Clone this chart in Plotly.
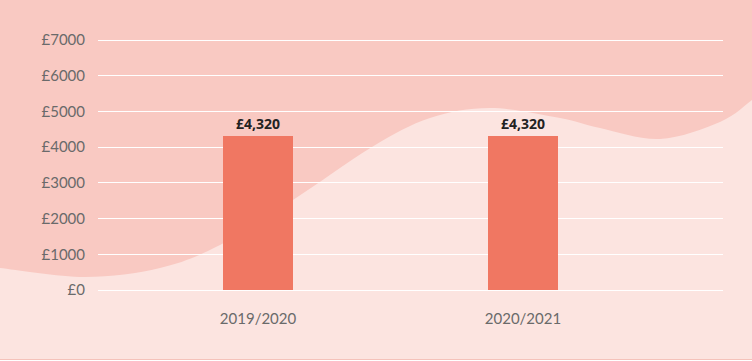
import plotly.graph_objects as go

categories = ["2019/2020", "2020/2021"]
values = [4320, 4320]
labels = ["£4,320", "£4,320"]
tick_vals = [0, 1000, 2000, 3000, 4000, 5000, 6000, 7000]
tick_text = ["£0", "£1000", "£2000", "£3000", "£4000", "£5000", "£6000", "£7000"]

W, H = 752, 361
L, R, T, B = 98, 29, 30, 71
pw, ph = W - L - R, H - T - B
YMAX = 7000 * ph / 250.0

def to_paper(px, py):
    return (px - L) / pw, (H - B - py) / ph

# decorative wave (pixel coordinates of the page)
wave = [(0, 268), (85, 277), (160, 268), (220, 245), (293, 200), (372, 147),
        (430, 118), (490, 108), (560, 118), (600, 128), (660, 139), (720, 122), (752, 100)]

def catmull_path(pts):
    d = []
    x0, y0 = to_paper(0, -5)
    d.append(f"M {x0},{y0}")
    x, y = to_paper(*pts[0])
    d.append(f"L {x},{y}")
    n = len(pts)
    for i in range(n - 1):
        p0 = pts[i - 1] if i > 0 else pts[i]
        p1 = pts[i]
        p2 = pts[i + 1]
        p3 = pts[i + 2] if i + 2 < n else pts[i + 1]
        c1 = (p1[0] + (p2[0] - p0[0]) / 6, p1[1] + (p2[1] - p0[1]) / 6)
        c2 = (p2[0] - (p3[0] - p1[0]) / 6, p2[1] - (p3[1] - p1[1]) / 6)
        a = to_paper(*c1); b = to_paper(*c2); c = to_paper(*p2)
        d.append(f"C {a[0]},{a[1]} {b[0]},{b[1]} {c[0]},{c[1]}")
    xe, ye = to_paper(760, 100)
    d.append(f"L {xe},{ye}")
    xe, ye = to_paper(760, -5)
    d.append(f"L {xe},{ye} Z")
    return " ".join(d)

fig = go.Figure(go.Bar(
    x=[0, 1], y=values, width=0.264,
    marker=dict(color="#F07762", line=dict(width=0)),
    text=labels, textposition="outside", cliponaxis=False, constraintext="none",
    textfont=dict(family="Open Sans", size=14, color="#222222", weight="bold"),
))

bl0 = to_paper(0, 359.5)
bl1 = to_paper(752, 359.5)
wr0 = to_paper(0, 360)
wr1 = to_paper(752, 362)
fig.update_layout(
    width=W, height=H,
    margin=dict(l=L, r=R, t=T, b=B),
    paper_bgcolor="#FCE4E0",
    plot_bgcolor="rgba(0,0,0,0)",
    showlegend=False,
    bargap=0,
    shapes=[
        dict(type="path", xref="paper", yref="paper", path=catmull_path(wave),
             fillcolor="#F9C9C2", line=dict(width=0), layer="below"),
        dict(type="rect", xref="paper", yref="paper", x0=wr0[0], y0=wr0[1], x1=wr1[0], y1=wr1[1],
             fillcolor="#FFFFFF", line=dict(width=0), layer="below"),
        dict(type="line", xref="paper", yref="paper", x0=bl0[0], y0=bl0[1], x1=bl1[0], y1=bl1[1],
             line=dict(color="#F5C2BA", width=1), layer="below"),
    ],
    xaxis=dict(
        range=[-0.604, 1.755], tickvals=[0, 1], ticktext=categories,
        showgrid=False, zeroline=False, showline=False, ticks="",
        tickfont=dict(family="Lato", size=15, color="#6a6a6a"),
        ticklabelstandoff=18, fixedrange=True,
    ),
    yaxis=dict(
        range=[0, YMAX], tickvals=tick_vals, ticktext=tick_text,
        showgrid=True, gridcolor="#FFFFFF", gridwidth=1,
        zeroline=True, zerolinecolor="#FFFFFF", zerolinewidth=1,
        showline=False, ticks="",
        tickfont=dict(family="Lato", size=15, color="#6a6a6a"),
        ticklabelstandoff=12, fixedrange=True,
    ),
)

fig.write_html("out.html")
